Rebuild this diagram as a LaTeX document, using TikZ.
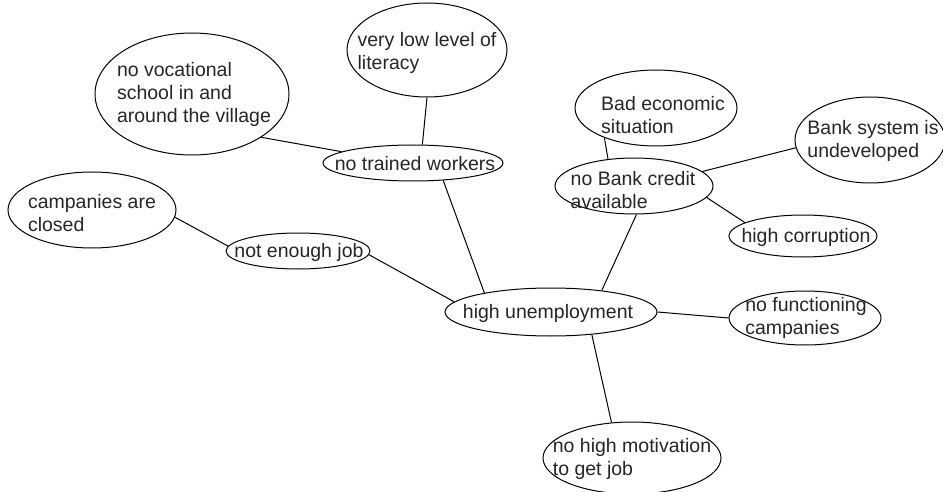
\documentclass[tikz,border=0pt]{standalone}
\usepackage{fontspec}
\setmainfont{Liberation Sans}
\usetikzlibrary{shapes.geometric}
\begin{document}
\begin{tikzpicture}[x=1pt,y=-1pt,
  bub/.style={draw=black,line width=1pt,ellipse,inner sep=0pt},
  txt/.style={align=left,inner sep=0pt,font=\fontsize{19.5}{23}\selectfont,text=black!85},
  link/.style={draw=black,line width=1pt}]
\useasboundingbox[fill=white] (0,0) rectangle (943,492);
% ellipses
\node[bub,minimum width=160pt,minimum height=94pt] (lit) at (427,50) {};
\node[bub,minimum width=194pt,minimum height=122pt] (voc) at (192,94) {};
\node[bub,minimum width=180pt,minimum height=36pt] (tw) at (413,163) {};
\node[bub,minimum width=168pt,minimum height=76pt] (cc) at (92,210) {};
\node[bub,minimum width=144pt,minimum height=36pt] (nej) at (298,251) {};
\node[bub,minimum width=212pt,minimum height=48pt] (hu) at (551,312) {};
\node[bub,minimum width=158pt,minimum height=56pt] (bc) at (634,186) {};
\node[bub,minimum width=162pt,minimum height=76pt] (be) at (656,108) {};
\node[bub,minimum width=150pt,minimum height=86pt] (bs) at (870,140) {};
\node[bub,minimum width=148pt,minimum height=42pt] (hc) at (803,236) {};
\node[bub,minimum width=152pt,minimum height=54pt] (fc) at (805,318) {};
\node[bub,minimum width=178pt,minimum height=72pt] (mo) at (632,458) {};
% texts
\node[txt] (tlit) at (427,53) {very low level of\\literacy};
\node[txt] (tvoc) at (194,94) {no vocational\\school in and\\around the village};
\node[txt] (ttw) at (415,164) {no trained workers};
\node[txt] (tcc) at (92,213) {campanies are\\closed};
\node[txt] (tnej) at (299,252) {not enough job};
\node[txt] (thu) at (548,313) {high unemployment};
\node[txt] (tbc) at (633,190) {no Bank credit\\available};
\node[txt] (tbe) at (663,115) {Bad economic\\situation};
\node[txt] (tbs) at (873,141) {Bank system is\\undeveloped};
\node[txt] (thc) at (806,237) {high corruption};
\node[txt] (tfc) at (806,318) {no functioning\\campanies};
\node[txt] (tmo) at (632,459) {no high motivation\\to get job};
% connectors
\draw[link] (lit.-90) -- (tw.63);
\draw[link] (voc.-32) -- (tw.171);
\draw[link] (tw.-30) -- (hu.164);
\draw[link] (cc.-5) -- (nej.176);
\draw[link] (nej.-3) -- (hu.174);
\draw[link] (bc.-85) -- (hu.23);
\draw[link] (be.-150) -- (bc.134);
\draw[link] (bs.-174) -- (bc.12);
\draw[link] (hc.167) -- (bc.-9);
\draw[link] (hu.0) -- (fc.180);
\draw[link] (hu.-29) -- (mo.120);
\end{tikzpicture}
\end{document}
